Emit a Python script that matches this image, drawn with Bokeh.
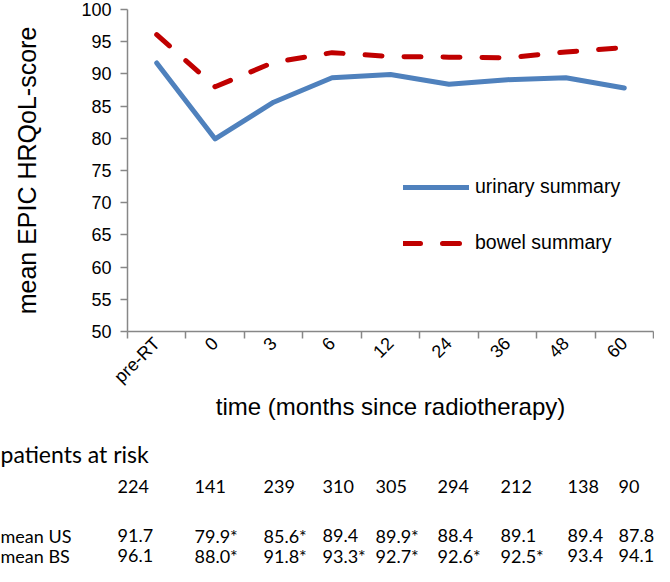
import math
from bokeh.plotting import figure
from bokeh.models import Range1d, FixedTicker, Legend, LegendItem
from bokeh.core.properties import value
from bokeh.embed import file_html
from bokeh.resources import INLINE

# ---------------- data ----------------
categories = ["pre-RT", "0", "3", "6", "12", "24", "36", "48", "60"]
urinary = [91.7, 79.9, 85.6, 89.4, 89.9, 88.4, 89.1, 89.4, 87.8]
bowel = [96.1, 88.0, 91.8, 93.3, 92.7, 92.6, 92.5, 93.4, 94.1]
at_risk = [224, 141, 239, 310, 305, 294, 212, 138, 90]
us_sig = [False, True, True, False, True, False, False, False, False]
bs_sig = [False, True, True, True, True, True, True, False, False]
y_ticks = list(range(50, 101, 5))
row_labels = ["mean US", "mean BS"]
table_title = "patients at risk"

# ---------------- layout constants ----------------
W = 654
H1 = 428
H2 = 138
FRAME_L = 127
FRAME_R = 653
TABLE_COL_X = [117, 194, 263, 322, 375, 437, 500, 567, 618]
ROW_Y_TITLE, ROW_Y_RISK, ROW_Y_US, ROW_Y_BS = 25, 58, 107, 127

AXIS_COLOR = "#878787"
BLUE = "#4f81bd"
RED = "#c00000"
CHART_FONT = "Liberation Sans"
TABLE_FONT = "Lato"

n = len(categories)
xs = [i + 0.5 for i in range(n)]

p = figure(width=W, height=H1, x_range=Range1d(0, n), y_range=Range1d(50, 100),
           output_backend="svg", toolbar_location=None,
           min_border_left=FRAME_L, min_border_right=W - FRAME_R,
           min_border_top=9, min_border_bottom=97)
p.outline_line_color = None
p.xgrid.visible = False
p.ygrid.visible = False
p.background_fill_color = None
p.border_fill_color = None

r_u = p.line(xs, urinary, line_color=BLUE, line_width=5, line_join="round", line_cap="round")
r_b = p.line(xs, bowel, line_color=RED, line_width=5, line_dash="17 22",
             line_cap="round", line_join="round")

# y axis
ya = p.yaxis[0]
ya.ticker = FixedTicker(ticks=y_ticks)
ya.axis_line_color = AXIS_COLOR
ya.axis_line_width = 1.5
ya.major_tick_line_color = AXIS_COLOR
ya.major_tick_line_width = 1.5
ya.major_tick_out = 7
ya.major_tick_in = 0
ya.minor_tick_line_color = None
ya.major_label_text_font = CHART_FONT
ya.major_label_text_font_size = "18px"
ya.major_label_text_color = "black"
ya.major_label_standoff = 9
ya.axis_label = "mean EPIC HRQoL-score"
ya.axis_label_text_font = CHART_FONT
ya.axis_label_text_font_size = "25px"
ya.axis_label_text_font_style = "normal"
ya.axis_label_text_color = "black"
ya.axis_label_standoff = 37

# x axis
xa = p.xaxis[0]
xa.ticker = FixedTicker(ticks=xs, minor_ticks=list(range(n + 1)))
xa.major_label_overrides = {x: c for x, c in zip(xs, categories)}
xa.axis_line_color = AXIS_COLOR
xa.axis_line_width = 1.5
xa.major_tick_line_color = None
xa.major_tick_out = 7
xa.major_tick_in = 0
xa.minor_tick_line_color = AXIS_COLOR
xa.minor_tick_line_width = 1.5
xa.minor_tick_out = 7
xa.minor_tick_in = 0
xa.major_label_orientation = math.pi / 4
xa.major_label_text_font = CHART_FONT
xa.major_label_text_font_size = "18px"
xa.major_label_text_color = "black"
xa.major_label_standoff = 2
xa.axis_label = "time (months since radiotherapy)"
xa.axis_label_text_font = CHART_FONT
xa.axis_label_text_font_size = "24px"
xa.axis_label_text_font_style = "normal"
xa.axis_label_text_color = "black"
xa.axis_label_standoff = -4

legend = Legend(items=[LegendItem(label="urinary summary", renderers=[r_u]),
                       LegendItem(label="bowel summary", renderers=[r_b])],
                location=(276, 77), padding=0, margin=0, spacing=33,
                glyph_width=66, glyph_height=20, label_standoff=6,
                label_text_font=CHART_FONT, label_text_font_size="19.5px",
                label_text_color="black",
                border_line_color=None, background_fill_alpha=0)
p.add_layout(legend, "center")

# ---------------- table below (pixel-like data units, full-width frame) ----------------
t = figure(width=W, height=H2, x_range=Range1d(0, W), y_range=Range1d(H2, 0),
           output_backend="svg", toolbar_location=None, min_border=0,
           x_axis_type=None, y_axis_type=None)
t.outline_line_color = None
t.xgrid.visible = False
t.ygrid.visible = False
t.background_fill_color = None
t.border_fill_color = None

def fmt(vals, sig):
    return [f"{v:.1f}" + ("*" if s else "") for v, s in zip(vals, sig)]

common = dict(text_font=value(TABLE_FONT), text_baseline="middle",
              text_align="left", text_color="black")
t.text(x=[0], y=[ROW_Y_TITLE], text=[table_title], text_font_size="23px", **common)
t.text(x=[0, 0], y=[ROW_Y_US, ROW_Y_BS], text=row_labels, text_font_size="18px", **common)
t.text(x=TABLE_COL_X, y=[ROW_Y_RISK] * n, text=[str(v) for v in at_risk],
       text_font_size="18px", **common)
t.text(x=TABLE_COL_X, y=[ROW_Y_US] * n, text=fmt(urinary, us_sig),
       text_font_size="18px", **common)
t.text(x=TABLE_COL_X, y=[ROW_Y_BS] * n, text=fmt(bowel, bs_sig),
       text_font_size="18px", **common)

open("out.html", "w").write(file_html([p, t], INLINE))
